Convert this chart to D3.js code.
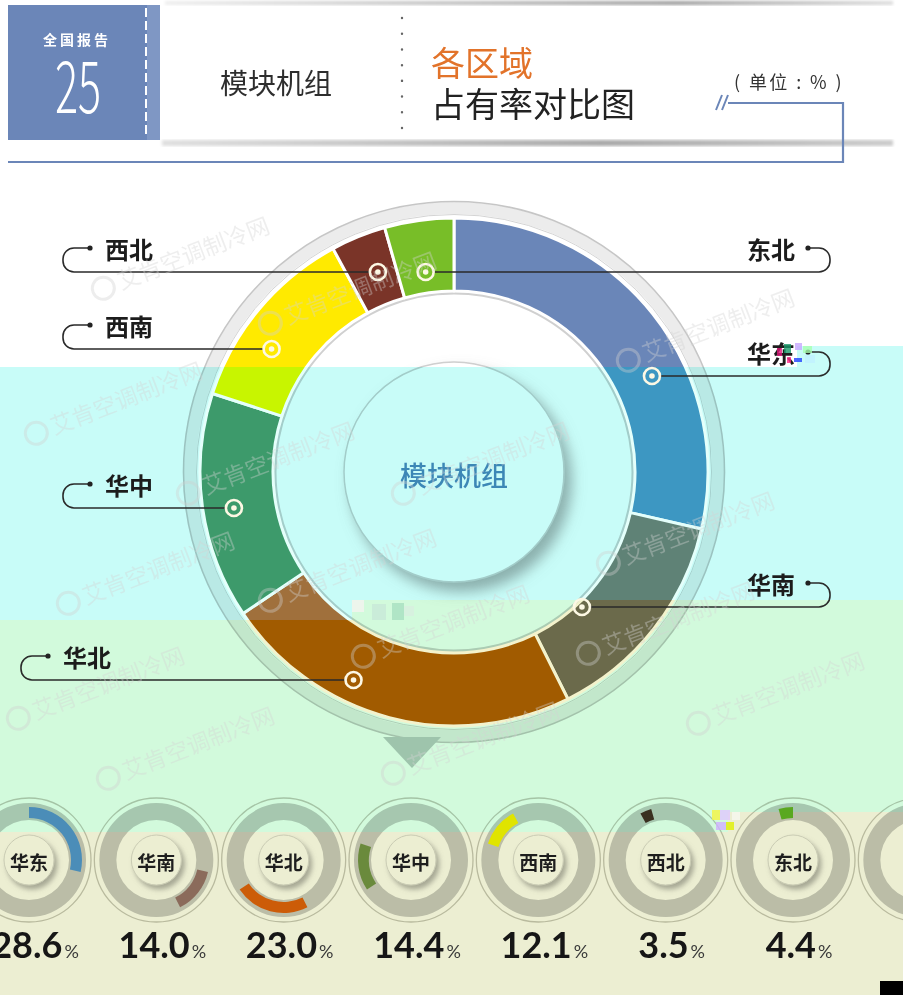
<!DOCTYPE html>
<html>
<head>
<meta charset="utf-8">
<script src="https://cdn.jsdelivr.net/npm/d3@7"></script>
<style>
html, body { margin: 0; padding: 0; background: #fff; }
svg { display: block; }
text { font-family: 'Noto Sans CJK SC', 'Noto Sans', sans-serif; }
</style>
</head>
<body>
<svg id="chart" width="903" height="995"></svg>
<script>
//////////////////////////////////////////////////////////////////////
// Data
//////////////////////////////////////////////////////////////////////
const regions = ['华东', '华南', '华北', '华中', '西南', '西北', '东北'];
const shares = [28.6, 14.0, 23.0, 14.4, 12.1, 3.5, 4.4];
const centerTitle = '模块机组';
const titleLines = ['各区域', '占有率对比图'];
const unitLabel = '( 单位 : % )';
const reportTag = '全国报告';
const reportNo = '25';
const watermarkText = '艾肯空调制冷网';

//////////////////////////////////////////////////////////////////////
// Styles / layout
//////////////////////////////////////////////////////////////////////
const W = 903, H = 995;
const cx = 454, cy = 472;
const rIn = 181, rOut = 254;

// the picture has colour-shifted horizontal bands
const bandPolys = {
    white: [[0,0],[903,0],[903,346],[797,346],[797,367],[0,367]],
    cyan:  [[0,367],[797,367],[797,346],[903,346],[903,600],[352,600],[352,620],[0,620]],
    green: [[0,620],[352,620],[352,600],[903,600],[903,812],[728,812],[728,832],[0,832]],
    beige: [[0,832],[728,832],[728,812],[903,812],[903,995],[0,995]]
};
const bandFill = { cyan: '#c8fcf8', green: '#d2fadc', beige: '#eceed2' };
const slicePalettes = {
    white: ['#6a86b8', '#7a7a6a', '#a15b00', '#3d9a6b', '#ffea00', '#7a3428', '#78be28'],
    cyan:  ['#3d97c2', '#5f8276', '#a0703c', '#3d9a6b', '#c8f500', '#7a3428', '#78be28'],
    green: ['#3d97c2', '#6b6a4b', '#a15b00', '#3c8c5c', '#c8f500', '#7a3428', '#78be28']
};
const sepColors = { white: '#ffffff', cyan: '#e4fffb', green: '#f3f2cc' };
const miniColors = ['#4b8db8', '#8b6b5b', '#cc5c08', '#6a8a3c', '#e0e400', '#3a3020', '#5aa820'];

// leader layout per region: side, curve x, leader line y, marker radius
const labelSide = ['R', 'R', 'L', 'L', 'L', 'L', 'R'];
const labelX0 = [830, 830, 21, 63, 63, 63, 830];
const leaderY = [376, 607, 680, 508, 349, 272, 272];
const markerR = [220, 186, 231, 223, 220, 214, 202];

const watermarkPos = [[95,300],[262,335],[620,372],[28,445],[180,505],[395,505],[600,575],
    [60,615],[262,612],[355,668],[580,665],[10,730],[690,735],[100,790],[385,785]];

//////////////////////////////////////////////////////////////////////
// Setup
//////////////////////////////////////////////////////////////////////
const svg = d3.select('#chart');
const defs = svg.append('defs');

Object.entries(bandPolys).forEach(([k, p]) => {
    defs.append('clipPath').attr('id', 'clip-' + k)
        .append('polygon').attr('points', p.join(' '));
});

const shadow = defs.append('filter').attr('id', 'shadow')
    .attr('x', '-30%').attr('y', '-30%').attr('width', '170%').attr('height', '170%');
shadow.append('feDropShadow').attr('dx', 7).attr('dy', 9).attr('stdDeviation', 7)
    .attr('flood-color', '#888').attr('flood-opacity', 0.65);

const shadowSm = defs.append('filter').attr('id', 'shadowSm')
    .attr('x', '-40%').attr('y', '-40%').attr('width', '190%').attr('height', '190%');
shadowSm.append('feDropShadow').attr('dx', 3).attr('dy', 4).attr('stdDeviation', 2.5)
    .attr('flood-color', '#777').attr('flood-opacity', 0.55);

const blur = defs.append('filter').attr('id', 'blur');
blur.append('feGaussianBlur').attr('stdDeviation', 1.6);

const gradTop = defs.append('linearGradient').attr('id', 'gradTop');
gradTop.append('stop').attr('offset', '0%').attr('stop-color', '#eeeeee');
gradTop.append('stop').attr('offset', '70%').attr('stop-color', '#a0a0a0');
gradTop.append('stop').attr('offset', '100%').attr('stop-color', '#dddddd');

const gradBot = defs.append('linearGradient').attr('id', 'gradBot');
gradBot.append('stop').attr('offset', '0%').attr('stop-color', '#e0e0e0');
gradBot.append('stop').attr('offset', '60%').attr('stop-color', '#a8a8a8');
gradBot.append('stop').attr('offset', '100%').attr('stop-color', '#cccccc');

const base = svg.append('g');   // gets tinted by the bands
const tint = svg.append('g');
const front = svg.append('g');  // drawn with the colours seen in the picture

const data = regions.map((name, i) => ({ name, v: shares[i], i }));
const arcs = d3.pie().sort(null).value(d => d.v)(data);
const arc = d3.arc().innerRadius(rIn).outerRadius(rOut);

const xMini = d3.scalePoint().domain(regions).range([29, 793]);
const miniY = 860;

// x where a slice's leader line meets its marker circle
function markerX(d, i) {
    const dy = leaderY[i] - cy;
    const dx = Math.sqrt(Math.max(0, markerR[i] * markerR[i] - dy * dy));
    const mid = (d.startAngle + d.endAngle) / 2;
    const angDiff = s => {
        let a = Math.atan2(s * dx, -dy);
        if (a < 0) a += 2 * Math.PI;
        const diff = Math.abs(a - mid);
        return Math.min(diff, 2 * Math.PI - diff);
    };
    return angDiff(1) <= angDiff(-1) ? cx + dx : cx - dx;
}

//////////////////////////////////////////////////////////////////////
// Base layer
//////////////////////////////////////////////////////////////////////
base.append('rect').attr('width', W).attr('height', H).attr('fill', '#fff');

// header shadows
base.append('rect').attr('x', 165).attr('y', 1).attr('width', 728).attr('height', 4)
    .attr('fill', 'url(#gradTop)').attr('filter', 'url(#blur)');
base.append('rect').attr('x', 162).attr('y', 140).attr('width', 731).attr('height', 6)
    .attr('fill', 'url(#gradBot)').attr('filter', 'url(#blur)');

// outer decorative ring
base.append('circle').attr('cx', cx).attr('cy', cy).attr('r', 264)
    .attr('fill', 'none').attr('stroke', '#ececec').attr('stroke-width', 12);
base.append('circle').attr('cx', cx).attr('cy', cy).attr('r', 270.5)
    .attr('fill', 'none').attr('stroke', '#c6c6c6').attr('stroke-width', 1.6);
base.append('circle').attr('cx', cx).attr('cy', cy).attr('r', 257.5)
    .attr('fill', 'none').attr('stroke', '#d4d4d4').attr('stroke-width', 1);
base.append('circle').attr('cx', cx).attr('cy', cy).attr('r', 179)
    .attr('fill', 'none').attr('stroke', '#d0d0d0').attr('stroke-width', 3);

// pointer under the ring
base.append('path')
    .attr('d', `M${cx - 71},${cy + 265} L${cx - 13},${cy + 265} L${cx - 42},${cy + 296} Z`)
    .attr('fill', '#c0c8c8');

// center disc
base.append('circle').attr('cx', cx).attr('cy', cy).attr('r', 110)
    .attr('fill', '#fff').attr('stroke', '#cfcfcf').attr('stroke-width', 1.5)
    .attr('filter', 'url(#shadow)');

// mini rings
const miniRing = d3.arc().innerRadius(40).outerRadius(57).startAngle(0).endAngle(2 * Math.PI);
const miniCenters = regions.map(r => xMini(r)).concat([xMini(regions[6]) + xMini.step()]);
miniCenters.forEach((mx, i) => {
    const g = base.append('g').attr('transform', `translate(${mx},${miniY})`);
    g.append('circle').attr('r', 62).attr('fill', 'none')
        .attr('stroke', '#c8c8c0').attr('stroke-width', 1.3);
    g.append('path').attr('d', miniRing()).attr('fill', '#cacbcb');
    if (i < regions.length) {
        g.append('circle').attr('r', 25).attr('fill', '#fff')
            .attr('stroke', '#dadada').attr('stroke-width', 1)
            .attr('filter', 'url(#shadowSm)');
    }
});

//////////////////////////////////////////////////////////////////////
// Tint bands
//////////////////////////////////////////////////////////////////////
['cyan', 'green', 'beige'].forEach(k => {
    tint.append('polygon').attr('points', bandPolys[k].join(' '))
        .attr('fill', bandFill[k]).style('mix-blend-mode', 'multiply');
});

//////////////////////////////////////////////////////////////////////
// Donut slices
//////////////////////////////////////////////////////////////////////
['white', 'cyan', 'green'].forEach(k => {
    front.append('g').attr('clip-path', `url(#clip-${k})`)
        .append('g').attr('transform', `translate(${cx},${cy})`)
        .selectAll('path').data(arcs).join('path')
        .attr('d', arc)
        .attr('fill', d => slicePalettes[k][d.data.i])
        .attr('stroke', sepColors[k]).attr('stroke-width', 3)
        .attr('stroke-linejoin', 'round');
});

// leaders, markers, labels
arcs.forEach(d => {
    const i = d.data.i;
    const mx = markerX(d, i), lineY = leaderY[i], textY = lineY - 24;
    const x0 = labelX0[i];
    const r = 11;
    let path, dotX, textX, anchor;
    if (labelSide[i] === 'L') {
        dotX = x0 + 27; textX = x0 + 42; anchor = 'start';
        path = `M${dotX},${textY} H${x0 + r} A${r},${r} 0 0 0 ${x0},${textY + r} V${lineY - r} A${r},${r} 0 0 0 ${x0 + r},${lineY} H${mx - 8}`;
    } else {
        dotX = x0 - 22; textX = x0 - 35; anchor = 'end';
        path = `M${dotX},${textY} H${x0 - r} A${r},${r} 0 0 1 ${x0},${textY + r} V${lineY - r} A${r},${r} 0 0 1 ${x0 - r},${lineY} H${mx + 8}`;
    }
    front.append('path').attr('d', path).attr('fill', 'none')
        .attr('stroke', '#2a2a2a').attr('stroke-width', 1.6);
    front.append('circle').attr('cx', dotX).attr('cy', textY).attr('r', 2.6).attr('fill', '#222');
    front.append('text').attr('x', textX).attr('y', textY)
        .attr('text-anchor', anchor).attr('dominant-baseline', 'central')
        .attr('font-size', 24).attr('font-weight', 700).attr('fill', '#1c1c1c')
        .text(d.data.name);
    front.append('circle').attr('cx', mx).attr('cy', lineY).attr('r', 8)
        .attr('fill', 'none').attr('stroke', '#fdf8e4').attr('stroke-width', 2.6);
    front.append('circle').attr('cx', mx).attr('cy', lineY).attr('r', 2.8).attr('fill', '#fdf8e4');
});

front.append('text').attr('x', cx).attr('y', cy + 2)
    .attr('text-anchor', 'middle').attr('dominant-baseline', 'central')
    .attr('font-size', 27).attr('font-weight', 500).attr('fill', '#3c87b6')
    .text(centerTitle);

//////////////////////////////////////////////////////////////////////
// Mini donuts
//////////////////////////////////////////////////////////////////////
const miniArc = d3.arc().innerRadius(42).outerRadius(53);
arcs.forEach(d => {
    const i = d.data.i;
    const mx = xMini(d.data.name);
    const g = front.append('g').attr('transform', `translate(${mx},${miniY})`);
    g.append('path').attr('d', miniArc(d)).attr('fill', miniColors[i]);
    g.append('text').attr('y', 1).attr('text-anchor', 'middle').attr('dominant-baseline', 'central')
        .attr('font-size', 19).attr('font-weight', 700).attr('fill', '#1e1e1e')
        .text(d.data.name);
    const t = front.append('text').attr('x', mx + 6).attr('y', 958).attr('text-anchor', 'middle');
    t.append('tspan').attr('font-family', 'Lato, "Noto Sans", sans-serif')
        .attr('font-size', 36).attr('font-weight', 700).attr('fill', '#161616')
        .text(d.data.v.toFixed(1));
    t.append('tspan').attr('font-family', 'Lato, "Noto Sans", sans-serif')
        .attr('font-size', 18).attr('fill', '#3a3a3a').attr('dx', 2)
        .text('%');
});

//////////////////////////////////////////////////////////////////////
// Header
//////////////////////////////////////////////////////////////////////
front.append('rect').attr('x', 8).attr('y', 5).attr('width', 152).attr('height', 135).attr('fill', '#6b86b8');
front.append('rect').attr('x', 147).attr('y', 5).attr('width', 13).attr('height', 135).attr('fill', '#7f97c4');
front.append('line').attr('x1', 146).attr('x2', 146).attr('y1', 8).attr('y2', 137)
    .attr('stroke', '#fff').attr('stroke-width', 2).attr('stroke-dasharray', '9,4');
front.append('text').attr('x', 77).attr('y', 45).attr('text-anchor', 'middle')
    .attr('font-size', 14).attr('font-weight', 700).attr('fill', '#fff').attr('letter-spacing', 3)
    .text(reportTag);
front.append('text').attr('transform', 'translate(78,113) scale(0.6,1)')
    .attr('text-anchor', 'middle')
    .attr('font-family', '"DejaVu Sans", sans-serif').attr('font-weight', 200)
    .attr('font-size', 72).attr('fill', '#fff')
    .text(reportNo);

front.append('text').attr('x', 276).attr('y', 94).attr('text-anchor', 'middle')
    .attr('font-size', 28).attr('fill', '#2e2e2e').text(centerTitle);

front.append('line').attr('x1', 402).attr('x2', 402).attr('y1', 18).attr('y2', 128)
    .attr('stroke', '#666').attr('stroke-width', 2.4).attr('stroke-linecap', 'round')
    .attr('stroke-dasharray', '0.1,15.6');

front.append('text').attr('x', 431).attr('y', 76)
    .attr('font-size', 34).attr('fill', '#e2732a').text(titleLines[0]);
front.append('text').attr('x', 431).attr('y', 117)
    .attr('font-size', 34).attr('fill', '#222').text(titleLines[1]);

front.append('text').attr('x', 734).attr('y', 89)
    .attr('font-size', 18).attr('fill', '#333').attr('letter-spacing', 2.4)
    .style('white-space', 'pre')
    .text(unitLabel);

front.append('path').attr('d', 'M716,110 L722,95 M722,110 L728,95')
    .attr('stroke', '#6b86b8').attr('stroke-width', 2).attr('fill', 'none');
front.append('path').attr('d', 'M728,103 H843 V162 H8')
    .attr('stroke', '#6b86b8').attr('stroke-width', 2.2).attr('fill', 'none');

//////////////////////////////////////////////////////////////////////
// Watermark
//////////////////////////////////////////////////////////////////////
watermarkPos.forEach(([x, y]) => {
    const g = front.append('g').attr('transform', `translate(${x},${y}) rotate(-21)`)
        .attr('opacity', 0.38);
    g.append('circle').attr('cx', 12).attr('cy', -8).attr('r', 11)
        .attr('fill', 'none').attr('stroke', '#d0d0d0').attr('stroke-width', 3);
    g.append('text').attr('x', 28).attr('y', 0)
        .attr('font-size', 23).attr('fill', '#d4d4d4').text(watermarkText);
});

//////////////////////////////////////////////////////////////////////
// Glitch blocks
//////////////////////////////////////////////////////////////////////
const glitch = [
    [777,348,5,8,'#e0197a'],[784,344,7,9,'#1a9a6a'],[795,343,7,7,'#c8a8ff'],[803,346,9,7,'#a8ffb0'],
    [787,357,4,6,'#ff2a8a'],[794,358,8,4,'#2040ff'],[805,355,10,8,'#c0f0ff'],
    [352,600,12,12,'#f4f4f0'],[372,604,14,16,'#c8e8d8'],[392,603,12,17,'#a8e0c0'],[404,606,10,10,'#d8efe0'],
    [712,810,8,10,'#f4f440'],[720,810,10,10,'#e0c8ff'],[732,812,8,8,'#f8f8f0'],[716,822,10,8,'#d0b0ff'],[726,822,8,8,'#e0f000'],
    [880,981,23,14,'#000']
];
front.selectAll('rect.glitch').data(glitch).join('rect').attr('class', 'glitch')
    .attr('x', d => d[0]).attr('y', d => d[1]).attr('width', d => d[2]).attr('height', d => d[3])
    .attr('fill', d => d[4]).attr('opacity', d => d[4] === '#000' ? 1 : 0.8);
</script>
</body>
</html>
